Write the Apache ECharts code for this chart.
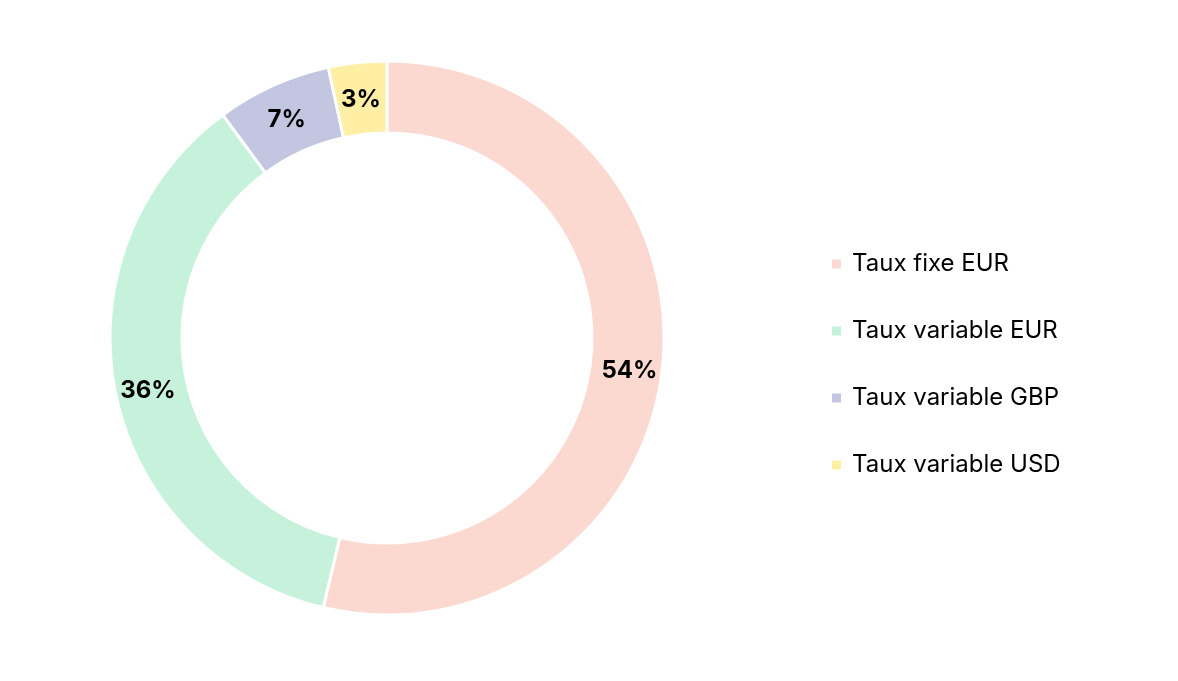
<!DOCTYPE html>
<html>
<head>
<meta charset="utf-8">
<script src="https://cdn.jsdelivr.net/npm/echarts@6/dist/echarts.min.js"></script>
<style>
html,body{margin:0;padding:0;background:#fff;}
#c{width:1178px;height:681px;}
</style>
</head>
<body>
<div id="c"></div>
<script>
const categories = ["Taux fixe EUR", "Taux variable EUR", "Taux variable GBP", "Taux variable USD"];
const values = [53.7, 36.2, 6.7, 3.4];
const colors = ["#FCD9D0", "#C6F1DA", "#C2C6E0", "#FEEFA4"];

const chart = echarts.init(document.getElementById('c'), null, {renderer: 'canvas'});
chart.setOption({
  animation: false,
  backgroundColor: '#ffffff',
  color: colors,
  legend: {
    orient: 'vertical',
    left: 825,
    top: 247,
    icon: 'rect',
    itemWidth: 11,
    itemHeight: 11,
    itemGap: 43,
    textStyle: {fontFamily: 'Inter', fontSize: 24, color: '#000', lineHeight: 24, padding: [0,0,0,5]},
    data: categories
  },
  series: [{
    type: 'pie',
    center: [387, 338],
    radius: [205, 277],
    startAngle: 90,
    clockwise: true,
    itemStyle: {borderColor: '#fff', borderWidth: 3},
    label: {
      show: true,
      position: 'inside',
      formatter: p => Math.round(p.value) + '%',
      fontFamily: 'Inter',
      fontWeight: 'bold',
      fontSize: 24,
      color: '#000'
    },
    labelLayout: {dy: 4},
    labelLine: {show: false},
    emphasis: {disabled: true},
    data: categories.map((c, i) => ({name: c, value: values[i]}))
  }]
});
</script>
</body>
</html>
